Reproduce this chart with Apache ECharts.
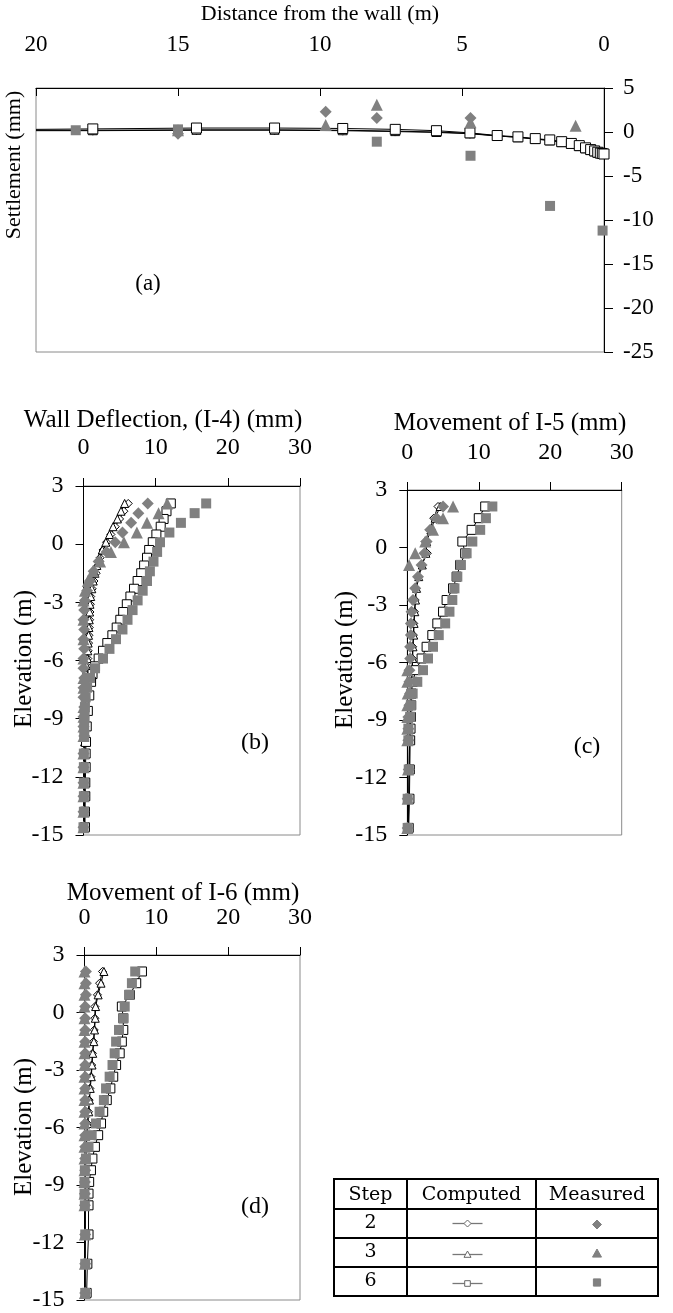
<!DOCTYPE html>
<html><head><meta charset="utf-8">
<script src="https://cdn.jsdelivr.net/npm/echarts@6/dist/echarts.min.js"></script>
<style>html,body{margin:0;padding:0;background:#fff}#c{width:673px;height:1313px}</style>
</head><body><div id="c"></div>
<script>
// ---------- Panel (a): settlement vs distance from the wall ----------
const distComputed = [20, 18.0, 14.35, 11.6, 9.2, 7.35, 5.9, 4.72, 3.76, 3.03, 2.42, 1.91, 1.49, 1.15, 0.87, 0.65, 0.47, 0.33, 0.22, 0.13, 0.06, 0.0];
const settleComp2 = [0.15, 0.15, 0.2, 0.2, 0.15, 0.05, -0.05, -0.2, -0.45, -0.6, -0.8, -0.95, -1.15, -1.35, -1.6, -1.85, -2.05, -2.2, -2.35, -2.4, -2.45, -2.5];
const settleComp3 = [0.2, 0.2, 0.25, 0.25, 0.2, 0.1, 0.0, -0.15, -0.45, -0.6, -0.8, -0.95, -1.15, -1.35, -1.6, -1.85, -2.05, -2.2, -2.35, -2.4, -2.45, -2.5];
const settleComp6 = [0.3, 0.35, 0.45, 0.45, 0.4, 0.3, 0.15, -0.1, -0.4, -0.55, -0.75, -0.9, -1.1, -1.3, -1.55, -1.8, -2.0, -2.15, -2.3, -2.4, -2.45, -2.5];
const distMeas2 = [15.0, 9.8, 8.0, 4.7];
const settleMeas2 = [-0.2, 2.3, 1.6, 1.6];
const distMeas3 = [15.0, 9.8, 8.0, 4.7, 1.0];
const settleMeas3 = [0.2, 0.8, 3.1, 1.1, 0.7];
const distMeas6 = [18.6, 15.0, 8.0, 4.7, 1.9, 0.05];
const settleMeas6 = [0.2, 0.3, -1.1, -2.7, -8.4, -11.2];

// ---------- Panel (b): wall deflection I-4 ----------
const elevI4Meas = [2.1, 1.6, 1.1, 0.6, 0.1, -0.4, -0.9, -1.4, -1.9, -2.4, -2.9, -3.4, -3.9, -4.4, -4.9, -5.4, -5.9, -6.4, -6.9, -7.4, -7.9, -8.4, -8.9, -9.4, -9.9, -10.8, -11.5, -12.3, -13.0, -13.8, -14.6];
const i4Meas2 = [8.9, 7.6, 6.6, 5.4, 4.4, 3.2, 2.1, 1.4, 0.9, 0.5, 0.2, 0.1, 0.0, 0.1, 0.0, 0.1, 0.0, 0.0, 0.1, 0.0, 0.0, 0.1, 0.0, 0.0, 0.1, 0.0, 0.0, 0.0, 0.0, 0.0, 0.0];
const i4Meas3 = [11.6, 10.4, 8.8, 7.4, 5.6, 3.8, 2.3, 1.3, 0.6, 0.2, 0.0, -0.1, 0.0, -0.1, 0.0, -0.1, 0.0, -0.1, 0.0, 0.0, -0.1, 0.0, 0.0, 0.0, 0.0, 0.0, 0.0, 0.0, 0.0, 0.0, 0.0];
const i4Meas6 = [17.0, 15.4, 13.5, 11.9, 10.6, 10.2, 9.7, 9.2, 8.8, 8.2, 7.5, 6.8, 6.1, 5.4, 4.5, 3.6, 2.7, 1.6, 0.9, 0.5, 0.3, 0.2, 0.15, 0.1, 0.1, 0.05, 0.05, 0.05, 0.05, 0.05, 0.0];
const elevI4Comp = [2.1, 1.7, 1.3, 0.9, 0.5, 0.1, -0.3, -0.7, -1.1, -1.5, -1.9, -2.3, -2.7, -3.1, -3.5, -3.9, -4.3, -4.7, -5.1, -5.5, -5.9, -6.3, -6.7, -7.1, -7.8, -8.6, -9.4, -10.2, -10.8, -11.5, -12.3, -13.0, -13.8, -14.6];
const i4Comp2 = [6.2, 5.6, 5.0, 4.4, 3.8, 3.2, 2.7, 2.3, 2.0, 1.75, 1.45, 1.2, 1.0, 0.95, 0.9, 0.85, 0.8, 0.75, 0.7, 0.65, 0.6, 0.5, 0.4, 0.35, 0.3, 0.25, 0.2, 0.2, 0.2, 0.15, 0.15, 0.15, 0.15, 0.15];
const i4Comp3 = [5.7, 5.2, 4.7, 4.1, 3.6, 3.1, 2.6, 2.2, 1.85, 1.6, 1.35, 1.15, 1.0, 0.9, 0.85, 0.8, 0.75, 0.7, 0.65, 0.6, 0.55, 0.45, 0.35, 0.3, 0.25, 0.2, 0.2, 0.15, 0.15, 0.15, 0.15, 0.15, 0.15, 0.15];
const i4Comp6 = [12.1, 11.5, 11.1, 10.7, 10.1, 9.6, 9.1, 8.8, 8.4, 8.0, 7.5, 7.0, 6.5, 6.0, 5.5, 5.1, 4.6, 4.0, 3.3, 2.7, 2.1, 1.6, 1.25, 1.05, 0.8, 0.6, 0.45, 0.35, 0.3, 0.3, 0.25, 0.25, 0.2, 0.2];

// ---------- Panels (c) I-5 and (d) I-6 ----------
const elevI56 = [2.14, 1.53, 0.92, 0.31, -0.3, -0.91, -1.52, -2.13, -2.74, -3.35, -3.96, -4.57, -5.18, -5.79, -6.4, -7.01, -7.62, -8.23, -8.84, -9.45, -10.06, -11.58, -13.11, -14.63];
const i5Meas2 = [5.0, 4.1, 3.2, 2.7, 2.4, 2.0, 1.5, 1.1, 0.8, 0.6, 0.5, 0.5, 0.4, 0.4, 0.3, 0.3, 0.4, 0.3, 0.15, 0.15, 0.15, 0.2, 0.05, 0.05];
const i5Meas3 = [6.4, 5.0, 3.6, 2.5, 1.1, 0.25, -0.2, -0.2, -0.1, -0.1, -0.1, -0.1, -0.1, -0.05, 0, 0, 0.05, 0, 0, 0, 0, 0.1, 0.05, 0];
const i5Meas6 = [11.9, 11.0, 10.2, 9.1, 8.3, 7.5, 7.0, 6.6, 6.3, 5.9, 5.3, 4.4, 3.6, 2.9, 2.2, 1.4, 0.75, 0.5, 0.4, 0.15, 0.15, 0.2, 0.05, 0.05];
const i5Comp2 = [4.3, 3.7, 3.1, 2.5, 2.8, 2.0, 1.5, 1.2, 1.1, 1.0, 0.9, 0.85, 0.75, 0.7, 0.65, 0.6, 0.5, 0.45, 0.4, 0.35, 0.3, 0.25, 0.2, 0.15];
const i5Comp3 = [4.6, 3.9, 3.3, 2.7, 2.6, 2.1, 1.6, 1.3, 1.15, 1.05, 0.95, 0.9, 0.8, 0.75, 0.7, 0.6, 0.5, 0.45, 0.4, 0.35, 0.3, 0.25, 0.2, 0.15];
const i5Comp6 = [10.9, 10.0, 9.0, 7.7, 8.1, 7.4, 6.9, 6.4, 5.5, 5.0, 4.2, 3.5, 2.7, 2.0, 1.2, 0.75, 0.6, 0.55, 0.5, 0.45, 0.4, 0.35, 0.3, 0.2];
const i6Meas2 = [0.2, 0.2, 0.2, 0.1, 0.1, 0.1, 0.1, 0.1, 0.1, 0.1, 0.1, 0.1, 0.1, 0.1, 0.1, 0.1, 0.1, 0.1, 0.05, 0.05, 0.05, 0.1, 0.1, 0.1];
const i6Meas3 = [0, 0, 0, 0, 0, 0, 0, 0, 0, 0, 0, 0, 0, 0, 0, 0, 0, 0, 0, 0, 0, 0.05, 0.05, 0.05];
const i6Meas6 = [7.06, 6.6, 6.2, 5.6, 5.4, 4.8, 4.4, 4.2, 3.9, 3.5, 3.0, 2.7, 2.1, 1.6, 1.0, 0.56, 0.2, 0.05, 0, 0, 0.05, 0.1, 0.1, 0.1];
const i6Comp2 = [2.5, 2.1, 1.8, 1.45, 1.45, 1.35, 1.25, 1.1, 1.0, 0.9, 0.75, 0.65, 0.56, 0.4, 0.33, 0.2, 0.15, 0.1, 0.1, 0.1, 0.1, 0.1, 0.1, 0.1];
const i6Comp3 = [2.7, 2.3, 1.9, 1.55, 1.5, 1.4, 1.3, 1.15, 1.05, 0.95, 0.8, 0.7, 0.6, 0.45, 0.35, 0.25, 0.2, 0.15, 0.12, 0.12, 0.12, 0.12, 0.1, 0.1];
const i6Comp6 = [8.0, 7.2, 6.3, 5.2, 5.4, 5.4, 5.2, 4.9, 4.4, 4.0, 3.6, 3.1, 2.6, 2.3, 1.9, 1.45, 1.1, 0.9, 0.65, 0.56, 0.56, 0.56, 0.4, 0.3];

// ---------- Text ----------
const steps = ['2', '3', '6'];
const legendHeads = ['Step', 'Computed', 'Measured'];
const titles = ['Distance from the wall (m)', 'Wall Deflection, (I-4) (mm)', 'Movement of I-5 (mm)', 'Movement of I-6 (mm)'];
const yNames = ['Settlement (mm)', 'Elevation (m)', 'Elevation (m)', 'Elevation (m)'];
const panelTags = ['(a)', '(b)', '(c)', '(d)'];

// ---------- Build ----------
const SERIF = '"Liberation Serif", "Times New Roman", serif';
const GRAY = '#808080';
const AX = {color: '#000', width: 1};
const pairs = (xs, ys) => xs.map((x, i) => [x, ys[i]]);

const grids = [
  {left: 36, top: 88, width: 568, height: 264},
  {left: 83.5, top: 486, width: 216.5, height: 349},
  {left: 407.3, top: 490, width: 214.4, height: 345},
  {left: 84.5, top: 955, width: 215.5, height: 345}
].map(g => Object.assign(g, {show: true, borderColor: '#8a8a8a', borderWidth: 1, backgroundColor: 'transparent'}));

const xAxes = [
  {gridIndex: 0, type: 'value', position: 'top', inverse: true, min: 0, max: 20, interval: 5,
   axisLine: {show: true, onZero: false, lineStyle: AX}, axisTick: {show: true, inside: true, length: 8, lineStyle: AX},
   axisLabel: {show: true, margin: 32, fontFamily: SERIF, fontSize: 23, color: '#000'}, splitLine: {show: false}}
];
const xMargins = [26, 25, 25];
for (let i = 1; i <= 3; i++) {
  xAxes.push({gridIndex: i, type: 'value', position: 'top', min: 0, max: 30, interval: 10,
    axisLine: {show: true, onZero: false, lineStyle: AX}, axisTick: {show: true, inside: false, length: 8, lineStyle: AX},
    axisLabel: {show: true, margin: xMargins[i - 1], fontFamily: SERIF, fontSize: 24, color: '#000'}, splitLine: {show: false}});
}
const yAxes = [
  {gridIndex: 0, type: 'value', position: 'right', min: -25, max: 5, interval: 5,
   axisLine: {show: true, onZero: false, lineStyle: AX}, axisTick: {show: true, inside: false, length: 9, lineStyle: AX},
   axisLabel: {show: true, margin: 19, fontFamily: SERIF, fontSize: 23, color: '#000'}, splitLine: {show: false}}
];
for (let i = 1; i <= 3; i++) {
  yAxes.push({gridIndex: i, type: 'value', position: 'left', min: -15, max: 3, interval: 3,
    axisLine: {show: true, onZero: false, lineStyle: AX}, axisTick: {show: true, inside: false, length: 8, lineStyle: AX},
    axisLabel: {show: true, margin: 20, fontFamily: SERIF, fontSize: 24, color: '#000'}, splitLine: {show: false}});
}

function measured(name, sym, size, data, gi) {
  return {type: 'scatter', name, xAxisIndex: gi, yAxisIndex: gi, symbol: sym, symbolSize: size,
    itemStyle: {color: GRAY, opacity: 1}, data, silent: true, z: 4};
}
function computed(name, sym, size, data, gi) {
  return {type: 'line', name, xAxisIndex: gi, yAxisIndex: gi, symbol: sym, symbolSize: size, showSymbol: true,
    itemStyle: {color: '#fff', borderColor: '#000', borderWidth: 1}, lineStyle: {color: '#000', width: 1},
    data, silent: true, z: 3};
}
const noFirst = arr => arr.map((p, i) => i === 0 ? {value: p, symbol: 'none'} : p);

const series = [
  computed('c2', 'diamond', 9, noFirst(pairs(distComputed, settleComp2)), 0),
  computed('c3', 'triangle', 9, noFirst(pairs(distComputed, settleComp3)), 0),
  computed('c6', 'rect', 10, noFirst(pairs(distComputed, settleComp6)), 0),
  measured('m2', 'diamond', 12, pairs(distMeas2, settleMeas2), 0),
  measured('m3', 'triangle', 12, pairs(distMeas3, settleMeas3), 0),
  measured('m6', 'rect', 10, pairs(distMeas6, settleMeas6), 0),

  computed('c2', 'diamond', 8, pairs(i4Comp2, elevI4Comp), 1),
  computed('c3', 'triangle', 8, pairs(i4Comp3, elevI4Comp), 1),
  computed('c6', 'rect', 9, pairs(i4Comp6, elevI4Comp), 1),
  measured('m2', 'diamond', 12, pairs(i4Meas2, elevI4Meas), 1),
  measured('m3', 'triangle', 12, pairs(i4Meas3, elevI4Meas), 1),
  measured('m6', 'rect', 10, pairs(i4Meas6, elevI4Meas), 1),

  computed('c2', 'diamond', 8, pairs(i5Comp2, elevI56), 2),
  computed('c3', 'triangle', 8, pairs(i5Comp3, elevI56), 2),
  computed('c6', 'rect', 9, pairs(i5Comp6, elevI56), 2),
  measured('m2', 'diamond', 12, pairs(i5Meas2, elevI56), 2),
  measured('m3', 'triangle', 12, pairs(i5Meas3, elevI56), 2),
  measured('m6', 'rect', 10, pairs(i5Meas6, elevI56), 2),

  computed('c2', 'diamond', 8, pairs(i6Comp2, elevI56), 3),
  computed('c3', 'triangle', 8, pairs(i6Comp3, elevI56), 3),
  computed('c6', 'rect', 9, pairs(i6Comp6, elevI56), 3),
  measured('m2', 'diamond', 12, pairs(i6Meas2, elevI56), 3),
  measured('m3', 'triangle', 12, pairs(i6Meas3, elevI56), 3),
  measured('m6', 'rect', 10, pairs(i6Meas6, elevI56), 3)
];

function txt(t, x, y, size, rot, family) {
  return {type: 'text', x, y, rotation: rot || 0, silent: true,
    style: {text: t, font: size + 'px ' + (family || SERIF), fill: '#000',
      textAlign: 'center', textVerticalAlign: 'middle', align: 'center', verticalAlign: 'middle'}};
}
const graphic = [
  txt(titles[0], 320, 14, 22),
  txt(titles[1], 163, 420, 25),
  txt(titles[2], 510, 423, 25),
  txt(titles[3], 183, 893, 25),
  txt(yNames[0], 14, 165, 22, Math.PI / 2),
  txt(yNames[1], 24, 659, 25, Math.PI / 2),
  txt(yNames[2], 345, 660, 25, Math.PI / 2),
  txt(yNames[3], 24, 1127, 25, Math.PI / 2),
  txt(panelTags[0], 148, 284, 23),
  txt(panelTags[1], 255, 743, 24),
  txt(panelTags[2], 587, 747, 24),
  txt(panelTags[3], 255, 1207, 24)
];

// Legend table
const TBL = {x0: 334, x1: 407, x2: 536, x3: 658, rows: [1179, 1209, 1238, 1267, 1296]};
const TFONT = '"DejaVu Serif", serif';
const ln = (x1, y1, x2, y2, c, w) => ({type: 'line', silent: true, shape: {x1, y1, x2, y2}, style: {stroke: c || '#000', lineWidth: w || 2}});
graphic.push({type: 'rect', silent: true, shape: {x: TBL.x0, y: TBL.rows[0], width: TBL.x3 - TBL.x0, height: TBL.rows[4] - TBL.rows[0]}, style: {fill: 'none', stroke: '#000', lineWidth: 2}});
[1, 2, 3].forEach(r => graphic.push(ln(TBL.x0, TBL.rows[r], TBL.x3, TBL.rows[r])));
graphic.push(ln(TBL.x1, TBL.rows[0], TBL.x1, TBL.rows[4]));
graphic.push(ln(TBL.x2, TBL.rows[0], TBL.x2, TBL.rows[4]));
const colC = [(TBL.x0 + TBL.x1) / 2, (TBL.x1 + TBL.x2) / 2, (TBL.x2 + TBL.x3) / 2];
legendHeads.forEach((h, i) => graphic.push(txt(h, colC[i], (TBL.rows[0] + TBL.rows[1]) / 2 + 1, 19, 0, TFONT)));
const legSyms = ['diamond', 'triangle', 'square'];
steps.forEach((s, i) => {
  const cy = (TBL.rows[i + 1] + TBL.rows[i + 2]) / 2;
  graphic.push(txt(s, colC[0], cy, 19, 0, TFONT));
  const cx = colC[1] - 4;
  const ly = cy + (i ? 2 : 0);
  graphic.push(ln(cx - 15, ly, cx + 15, ly, '#777', 1.3));
  const mx = colC[2];
  const sym = legSyms[i];
  const mk = (x, y, r, fill, stroke) => {
    if (sym === 'diamond') return {type: 'polygon', silent: true, shape: {points: [[x, y - r], [x + r, y], [x, y + r], [x - r, y]]}, style: {fill, stroke, lineWidth: 1}};
    if (sym === 'triangle') return {type: 'polygon', silent: true, shape: {points: [[x, y - r], [x + r, y + r * 0.8], [x - r, y + r * 0.8]]}, style: {fill, stroke, lineWidth: 1}};
    return {type: 'rect', silent: true, shape: {x: x - r * 0.8, y: y - r * 0.8, width: r * 1.6, height: r * 1.6}, style: {fill, stroke, lineWidth: 1}};
  };
  graphic.push(mk(cx, ly, 3.5, '#fff', '#666'));
  graphic.push(mk(mx, cy + 1, 4.5, GRAY, GRAY));
});

const chart = echarts.init(document.getElementById('c'), null, {renderer: 'canvas', width: 673, height: 1313});
chart.setOption({
  animation: false,
  backgroundColor: '#fff',
  grid: grids,
  xAxis: xAxes,
  yAxis: yAxes,
  series,
  graphic
});
</script></body></html>
